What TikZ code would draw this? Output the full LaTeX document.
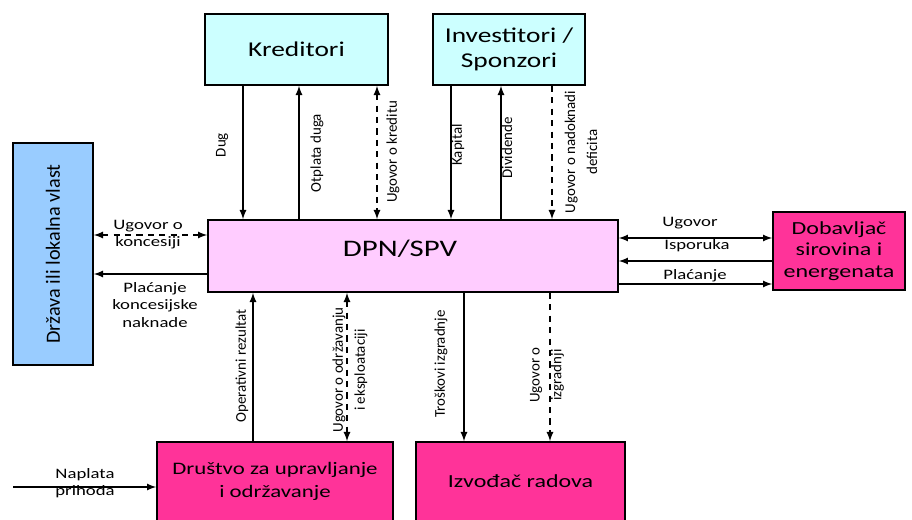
\documentclass[tikz,border=0pt]{standalone}
\usepackage{fontspec}
\setmainfont{Carlito}
\newfontfamily\widefont[FakeStretch=1.3]{Carlito}
\usepackage{tikz}
\usetikzlibrary{arrows, positioning}
\usepackage{xcolor}

\definecolor{kredblue}{HTML}{CCFFFF}
\definecolor{vlastblue}{HTML}{99CCFF}
\definecolor{spvpink}{HTML}{FFCCFF}
\definecolor{firmpink}{HTML}{FF3399}

\begin{document}
\begin{tikzpicture}[x=0.02cm, y=-0.02cm, >=latex,
    box/.style={draw, line width=1pt, align=center, inner sep=2pt},
    flow/.style={->, line width=0.8pt},
    contract/.style={line width=0.8pt, dash pattern=on 3.5pt off 3pt},
    hlabel/.style={font=\widefont\fontsize{8.2}{9.8}\selectfont, align=center, inner sep=0pt},
    vlabel/.style={font=\fontsize{8.5}{12.5}\selectfont, align=center, rotate=90, inner sep=0pt}]

        \useasboundingbox (0,0) rectangle (912,520);

        % Participants
        \node[box, fill=kredblue, minimum width=3.66cm, minimum height=1.42cm,
              font=\widefont\fontsize{12}{14}\selectfont] (kred) at (296.5,49.5) {Kreditori};
        \node[box, fill=kredblue, minimum width=3.04cm, minimum height=1.42cm,
              font=\widefont\fontsize{12}{14}\selectfont] (inv) at (509,49.5) {Investitori /\\Sponzori};
        \node[box, fill=vlastblue, rotate=90, minimum width=4.44cm, minimum height=1.6cm,
              font=\fontsize{11.5}{13}\selectfont] (drz) at (53,254) {Država ili lokalna vlast};
        \node[box, fill=spvpink, minimum width=8.2cm, minimum height=1.44cm,
              font=\widefont\fontsize{13.5}{16}\selectfont] (dpn) at (413,256) {\raisebox{8.4pt}{DPN/SPV}\hspace*{14.8pt}};
        \node[box, fill=firmpink, minimum width=2.64cm, minimum height=1.56cm,
              font=\widefont\fontsize{10.5}{12.3}\selectfont] (dob) at (839,251) {Dobavljač\\sirovina i\\energenata};
        \node[box, fill=firmpink, minimum width=4.72cm, minimum height=1.58cm,
              font=\widefont\fontsize{10}{13.5}\selectfont] (drus) at (275,481.5) {Društvo za upravljanje\\i održavanje};
        \node[box, fill=firmpink, minimum width=4.18cm, minimum height=1.58cm,
              font=\widefont\fontsize{10.5}{13}\selectfont] (izv) at (520.5,481.5) {Izvođač radova};

        % Kreditori and DPN/SPV
        \draw[flow] (kred.south -| 243,0) -- (dpn.north -| 243,0);
        \draw[flow] (dpn.north -| 299,0) -- (kred.south -| 299,0);
        \draw[contract, <->] (kred.south -| 377,0) -- (dpn.north -| 377,0);
        \node[vlabel] (dug) at (222,145) {Dug};
        \node[vlabel] (otplata) at (317,153) {Otplata duga};
        \node[vlabel] (ugkred) at (393,152) {Ugovor o kreditu};

        % Investitori and DPN/SPV
        \draw[flow] (inv.south -| 451,0) -- (dpn.north -| 451,0);
        \draw[flow] (dpn.north -| 501,0) -- (inv.south -| 501,0);
        \draw[contract, ->] (inv.south -| 552,0) -- (dpn.north -| 552,0);
        \node[vlabel] (kapital) at (458,145) {Kapital};
        \node[vlabel] (divid) at (507,148) {Dividende};
        \node[vlabel] (ugdef) at (581,152) {Ugovor o nadoknadi\\deficita};

        % Drzava and DPN/SPV
        \draw[contract, <->] (drz.south |- 0,235) -- (dpn.west |- 0,235);
        \draw[flow] (dpn.west |- 0,274) -- (drz.south |- 0,274);
        \node[hlabel] (ugkonc) at (148,235) {Ugovor o\\koncesiji};
        \node[hlabel] (naknada) at (155,305) {Plaćanje\\koncesijske\\naknade};

        % Dobavljac and DPN/SPV
        \draw[flow, <->] (dpn.east |- 0,238) -- (dob.west |- 0,238);
        \draw[flow] (dob.west |- 0,261) -- (dpn.east |- 0,261);
        \draw[flow] (dpn.east |- 0,284) -- (dob.west |- 0,284);
        \node[hlabel] (ugdob) at (690,223) {Ugovor};
        \node[hlabel] (isporuka) at (697,246) {Isporuka};
        \node[hlabel] (placanje) at (695,276) {Plaćanje};

        % Drustvo, Izvodjac and DPN/SPV
        \draw[flow] (drus.north -| 253,0) -- (dpn.south -| 253,0);
        \draw[contract, <->] (dpn.south -| 347,0) -- (drus.north -| 347,0);
        \draw[flow] (dpn.south -| 464,0) -- (izv.north -| 464,0);
        \draw[contract, ->] (dpn.south -| 550,0) -- (izv.north -| 550,0);
        \node[vlabel] (oprez) at (242,366) {Operativni rezultat};
        \node[vlabel] (ugodr) at (350,370) {Ugovor o održavanju\\i eksploataciji};
        \node[vlabel] (troskovi) at (441,364) {Troškovi izgradnje};
        \node[vlabel] (ugizg) at (547,375) {Ugovor o\\izgradnji};

        % Revenue
        \coordinate (prihod) at (13,487);
        \draw[flow] (prihod) -- (drus.west |- prihod);
        \node[hlabel] (naplata) at (85,483) {Naplata\\prihoda};
    \end{tikzpicture}
\end{document}
